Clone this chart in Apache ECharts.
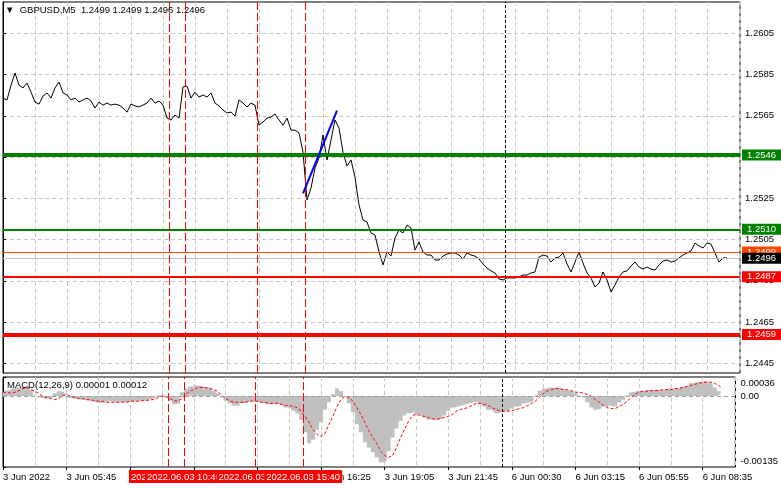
<!DOCTYPE html>
<html><head><meta charset="utf-8">
<script src="https://cdn.jsdelivr.net/npm/echarts@6/dist/echarts.min.js"></script>
<style>html,body{margin:0;padding:0;background:#fff}#c{width:781px;height:489px}</style>
</head><body><div id="c"></div>
<script>
// ---------- data ----------
const symbolName = 'GBPUSD,M5';
const lastOHLC = [1.2499, 1.2499, 1.2496, 1.2496];
const macdName = 'MACD(12,26,9)';
const macdLast = [0.00001, 0.00012];
const timeLabels = ['3 Jun 2022','3 Jun 05:45','3 Jun 08:25','3 Jun 11:05','3 Jun 13:45','3 Jun 16:25','3 Jun 19:05','3 Jun 21:45','6 Jun 00:30','6 Jun 03:15','6 Jun 05:55','6 Jun 08:35'];
const labelStepBars = 32;   // M5 bars between time labels
const pointStepBars = 2;    // M5 bars between sampled points
const priceTicks = [1.2445, 1.2465, 1.2485, 1.2505, 1.2525, 1.2545, 1.2565, 1.2585, 1.2605];
const macdTicks = [-0.00135, 0, 0.00036];
const closePrices = [
1.25736,1.25727,1.25799,1.25858,1.25799,1.25785,1.25809,1.25765,1.25717,1.25707,
1.25746,1.25761,1.25736,1.25785,1.25814,1.25761,1.25751,1.25727,1.25736,1.25717,
1.25727,1.25736,1.25722,1.25688,1.25717,1.25702,1.25712,1.25702,1.25707,1.25702,
1.25688,1.25668,1.25707,1.25698,1.25693,1.25702,1.25712,1.25736,1.25712,1.25722,
1.25702,1.25639,1.25630,1.25654,1.25639,1.25790,1.25794,1.25736,1.25765,1.25741,
1.25751,1.25741,1.25761,1.25712,1.25698,1.25678,1.25664,1.25668,1.25649,1.25727,
1.25712,1.25693,1.25712,1.25702,1.25605,1.25620,1.25639,1.25644,1.25659,1.25630,
1.25605,1.25639,1.25581,1.25581,1.25567,1.25474,1.25242,1.25300,1.25397,1.25445,
1.25557,1.25436,1.25533,1.25630,1.25591,1.25474,1.25407,1.25436,1.25353,1.25218,
1.25145,1.25135,1.25082,1.25072,1.24990,1.24927,1.24990,1.24970,1.25058,1.25096,
1.25082,1.25121,1.25106,1.24999,1.25038,1.24990,1.24975,1.24975,1.24951,1.24951,
1.24970,1.24980,1.24985,1.24985,1.24975,1.24956,1.24985,1.24975,1.24970,1.24956,
1.24932,1.24912,1.24898,1.24888,1.24859,1.24854,1.24864,1.24864,1.24864,1.24869,
1.24878,1.24878,1.24888,1.24893,1.24965,1.24975,1.24970,1.24941,1.24961,1.24965,
1.24985,1.24932,1.24893,1.24941,1.24990,1.24936,1.24888,1.24864,1.24820,1.24839,
1.24893,1.24854,1.24796,1.24830,1.24869,1.24893,1.24898,1.24922,1.24941,1.24917,
1.24907,1.24917,1.24907,1.24902,1.24927,1.24946,1.24951,1.24941,1.24946,1.24961,
1.24975,1.24985,1.24995,1.25033,1.25019,1.25009,1.25033,1.25028,1.24985,1.24941,
1.24961,1.24961];
const macdHist = [
0.00007,0.00010,0.00012,0.00016,0.00016,0.00018,0.00016,0.00012,0.00001,-0.00003,
-0.00005,-0.00005,-0.00003,0.00005,0.00009,0.00007,-0.00003,-0.00005,-0.00005,-0.00007,
-0.00007,-0.00009,-0.00010,-0.00012,-0.00014,-0.00012,-0.00010,-0.00010,-0.00012,-0.00012,
-0.00012,-0.00012,-0.00010,-0.00010,-0.00009,-0.00009,-0.00007,-0.00005,-0.00003,0.00001,
0.00003,-0.00003,-0.00009,-0.00016,-0.00014,0.00007,0.00014,0.00018,0.00020,0.00020,
0.00018,0.00016,0.00016,0.00010,0.00005,-0.00003,-0.00009,-0.00014,-0.00018,-0.00018,
-0.00014,-0.00012,-0.00010,-0.00010,-0.00012,-0.00014,-0.00016,-0.00016,-0.00016,-0.00016,
-0.00018,-0.00022,-0.00024,-0.00028,-0.00033,-0.00045,-0.00069,-0.00090,-0.00083,-0.00064,
-0.00050,-0.00026,-0.00012,0.00003,0.00014,0.00009,-0.00001,-0.00014,-0.00031,-0.00054,
-0.00069,-0.00088,-0.00098,-0.00107,-0.00117,-0.00126,-0.00124,-0.00105,-0.00079,-0.00062,
-0.00047,-0.00037,-0.00033,-0.00031,-0.00035,-0.00037,-0.00041,-0.00045,-0.00045,-0.00045,
-0.00043,-0.00037,-0.00028,-0.00022,-0.00020,-0.00018,-0.00016,-0.00014,-0.00012,-0.00012,
-0.00016,-0.00020,-0.00026,-0.00029,-0.00033,-0.00031,-0.00029,-0.00028,-0.00024,-0.00020,
-0.00018,-0.00014,-0.00012,-0.00009,0.00001,0.00010,0.00014,0.00016,0.00016,0.00016,
0.00014,0.00012,0.00010,0.00009,0.00005,0.00001,-0.00003,-0.00012,-0.00022,-0.00026,
-0.00024,-0.00020,-0.00018,-0.00020,-0.00020,-0.00012,-0.00007,0.00001,0.00007,0.00010,
0.00010,0.00010,0.00012,0.00012,0.00012,0.00012,0.00012,0.00014,0.00014,0.00014,
0.00016,0.00018,0.00020,0.00024,0.00026,0.00026,0.00028,0.00028,0.00024,0.00016,
0.00009,0.00003];
const macdSignal = [
0.00007,0.00007,0.00005,0.00007,0.00010,0.00014,0.00016,0.00012,0.00009,0.00005,
-0.00001,-0.00003,-0.00005,-0.00007,-0.00005,0.00001,0.00003,-0.00001,-0.00003,-0.00005,
-0.00005,-0.00007,-0.00007,-0.00009,-0.00010,-0.00010,-0.00012,-0.00012,-0.00012,-0.00012,
-0.00012,-0.00012,-0.00010,-0.00010,-0.00010,-0.00009,-0.00009,-0.00007,-0.00007,-0.00003,
-0.00001,-0.00001,-0.00005,-0.00009,-0.00010,-0.00005,0.00003,0.00009,0.00012,0.00016,
0.00016,0.00016,0.00014,0.00012,0.00009,0.00001,-0.00005,-0.00009,-0.00012,-0.00012,
-0.00012,-0.00012,-0.00010,-0.00010,-0.00010,-0.00012,-0.00012,-0.00014,-0.00014,-0.00014,
-0.00016,-0.00018,-0.00018,-0.00020,-0.00022,-0.00029,-0.00039,-0.00050,-0.00064,-0.00073,
-0.00077,-0.00071,-0.00054,-0.00039,-0.00020,-0.00007,-0.00001,-0.00003,-0.00010,-0.00022,
-0.00035,-0.00050,-0.00066,-0.00079,-0.00090,-0.00105,-0.00113,-0.00117,-0.00113,-0.00098,
-0.00079,-0.00064,-0.00048,-0.00037,-0.00035,-0.00037,-0.00039,-0.00041,-0.00043,-0.00045,
-0.00043,-0.00041,-0.00039,-0.00035,-0.00029,-0.00026,-0.00024,-0.00022,-0.00018,-0.00014,
-0.00014,-0.00016,-0.00018,-0.00022,-0.00026,-0.00028,-0.00029,-0.00029,-0.00028,-0.00026,
-0.00024,-0.00022,-0.00018,-0.00014,-0.00009,-0.00003,0.00005,0.00010,0.00012,0.00014,
0.00014,0.00012,0.00012,0.00010,0.00007,0.00007,0.00005,0.00003,-0.00001,-0.00007,
-0.00012,-0.00018,-0.00022,-0.00024,-0.00024,-0.00020,-0.00016,-0.00010,-0.00003,0.00003,
0.00007,0.00009,0.00009,0.00010,0.00010,0.00010,0.00012,0.00012,0.00012,0.00014,
0.00014,0.00016,0.00018,0.00020,0.00022,0.00024,0.00026,0.00026,0.00026,0.00024,
0.00020,0.00014];
const levelPrices = [1.2546, 1.2510, 1.2499, 1.2496, 1.2487, 1.2459];
const vlineBars = [83, 91, 127, 151];
const vlineLabels = ['2022.06.03 10:00', '2022.06.03 10:40', '2022.06.03 13:40', '2022.06.03 15:40'];
const separatorBar = 251;
const trendBars = [150, 167];
const trendPrices = [1.25274, 1.25675];

// ---------- styles ----------
const F = 'Liberation Sans';
const FS = 9.5;
const levelStyles = [
  {c:'#008000', w:4}, {c:'#008000', w:2}, {c:'#ff4500', w:1},
  {c:'#c0c0c0', w:1, bg:'#000000'}, {c:'#ff0000', w:2}, {c:'#ff0000', w:4}
];
const gridDash = {color:'#c8c8c8', type:[4,3], width:1};
const priceMin = 1.24403, priceMax = 1.26202, barMax = 368.5;

const pricePts = closePrices.map((p,i)=>[i*pointStepBars, p]);
const histPts = macdHist.map((v,i)=>[i*pointStepBars, v]);
const sigPts = macdSignal.map((v,i)=>[i*pointStepBars, v]);
const labelBars = timeLabels.map((t,i)=>i*labelStepBars);
const txt = {fontFamily:F, fontSize:FS, color:'#000'};

const mainMarks = [];
levelPrices.forEach((v,i)=>{
  const s = levelStyles[i];
  mainMarks.push({yAxis:v, lineStyle:{color:s.c, width:s.w, type:'solid'},
    label:{show:true, position:'end', distance:2, formatter:v.toFixed(4), lineHeight:10,
      backgroundColor:s.bg||s.c, color:'#fff', padding:[1,6,0,5], fontFamily:F, fontSize:FS}});
});
vlineBars.forEach(b=>mainMarks.push({xAxis:b, lineStyle:{color:'#ff0000', width:1, type:[8,3]}, label:{show:false}}));
mainMarks.push({xAxis:separatorBar, lineStyle:{color:'#000', width:1, type:[3,2]}, label:{show:false}});
mainMarks.push([
  {coord:[trendBars[0], trendPrices[0]], lineStyle:{color:'#0000ff', width:2, type:'solid'}, label:{show:false}},
  {coord:[trendBars[1], trendPrices[1]], lineStyle:{color:'#0000ff', width:2, type:'solid'}}
]);

const macdMarks = [];
vlineBars.forEach((b,i)=>macdMarks.push({xAxis:b, lineStyle:{color:'#ff0000', width:1, type:[8,3]},
  label:{show:true, position:'start', distance:3, formatter:vlineLabels[i], backgroundColor:'#ff0000',
    color:'#fff', padding:[2,2,1,2], fontFamily:F, fontSize:FS}}));
macdMarks.push({xAxis:separatorBar, lineStyle:{color:'#000', width:1, type:[3,2]}, label:{show:false}});

const chart = echarts.init(document.getElementById('c'));
chart.setOption({
  animation:false,
  backgroundColor:'#ffffff',
  title:[
    {text:'\u25BC  ' + symbolName + '  ' + lastOHLC.map(v=>v.toFixed(4)).join(' '), left:5, top:5, padding:0,
     textStyle:{fontFamily:F, fontSize:FS, fontWeight:'normal', color:'#000'}},
    {text:macdName + ' ' + macdLast.map(v=>v.toFixed(5)).join(' '), left:7, top:380, padding:0,
     textStyle:{fontFamily:F, fontSize:FS, fontWeight:'normal', color:'#000'}}
  ],
  grid:[
    {left:3, right:41, top:2, height:371, show:true, borderColor:'#000', borderWidth:1, backgroundColor:'transparent'},
    {left:3, right:41, top:377, height:90, show:true, borderColor:'#000', borderWidth:1, backgroundColor:'transparent'}
  ],
  xAxis:[
    {gridIndex:0, type:'value', min:0, max:barMax, interval:16, axisLine:{show:false}, axisTick:{show:false},
     axisLabel:{show:false}, splitLine:{show:true, lineStyle:gridDash}},
    {gridIndex:1, type:'value', min:0, max:barMax, interval:16, position:'bottom', axisLine:{show:false}, axisTick:{show:false},
     axisLabel:{show:false}, splitLine:{show:true, lineStyle:gridDash}},
    {gridIndex:1, type:'value', min:0, max:barMax, position:'bottom', axisLine:{show:false},
     axisTick:{show:true, customValues:labelBars, length:3, lineStyle:{color:'#000'}},
     axisLabel:Object.assign({customValues:labelBars, formatter:v=>timeLabels[Math.round(v/labelStepBars)]||'', align:'left', margin:5}, txt),
     splitLine:{show:false}}
  ],
  yAxis:[
    {gridIndex:0, type:'value', position:'right', min:priceMin, max:priceMax,
     axisLine:{show:true, lineStyle:{color:'#000'}},
     axisTick:{show:true, customValues:priceTicks, length:3, lineStyle:{color:'#000'}},
     axisLabel:Object.assign({customValues:priceTicks, formatter:v=>v.toFixed(4), margin:5}, txt),
     splitLine:{show:true, lineStyle:gridDash}},
    {gridIndex:1, type:'value', position:'right', min:macdTicks[0], max:macdTicks[2],
     axisLine:{show:true, lineStyle:{color:'#000'}},
     axisTick:{show:true, customValues:macdTicks, length:3, lineStyle:{color:'#000'}},
     axisLabel:Object.assign({customValues:macdTicks, margin:5, lineHeight:12,
       formatter:v=> v===0 ? '0.00' : (v>0 ? '\n'+v.toFixed(5) : v.toFixed(5)+'\n')}, txt),
     splitLine:{show:false}}
  ],
  series:[
    {type:'line', xAxisIndex:0, yAxisIndex:0, data:pricePts, showSymbol:false, silent:true,
     lineStyle:{color:'#000', width:1}, z:3,
     markLine:{silent:true, precision:5, symbol:['none','none'], animation:false, data:mainMarks}},
    {type:'line', xAxisIndex:1, yAxisIndex:1, data:histPts, step:'middle', showSymbol:false, silent:true,
     lineStyle:{width:0, opacity:0}, areaStyle:{color:'#c0c0c0', opacity:1, origin:0}, z:2,
     markLine:{silent:true, precision:5, symbol:['none','none'], animation:false,
       data:[{yAxis:0, lineStyle:{color:'#a0a0a0', type:[4,3], width:1}, label:{show:false}}]}},
    {type:'line', xAxisIndex:1, yAxisIndex:1, data:sigPts, showSymbol:false, silent:true,
     lineStyle:{color:'#ff0000', width:1, type:[3,2]}, z:3,
     markLine:{silent:true, precision:5, symbol:['none','none'], animation:false, data:macdMarks}}
  ]
});
</script>
</body></html>
